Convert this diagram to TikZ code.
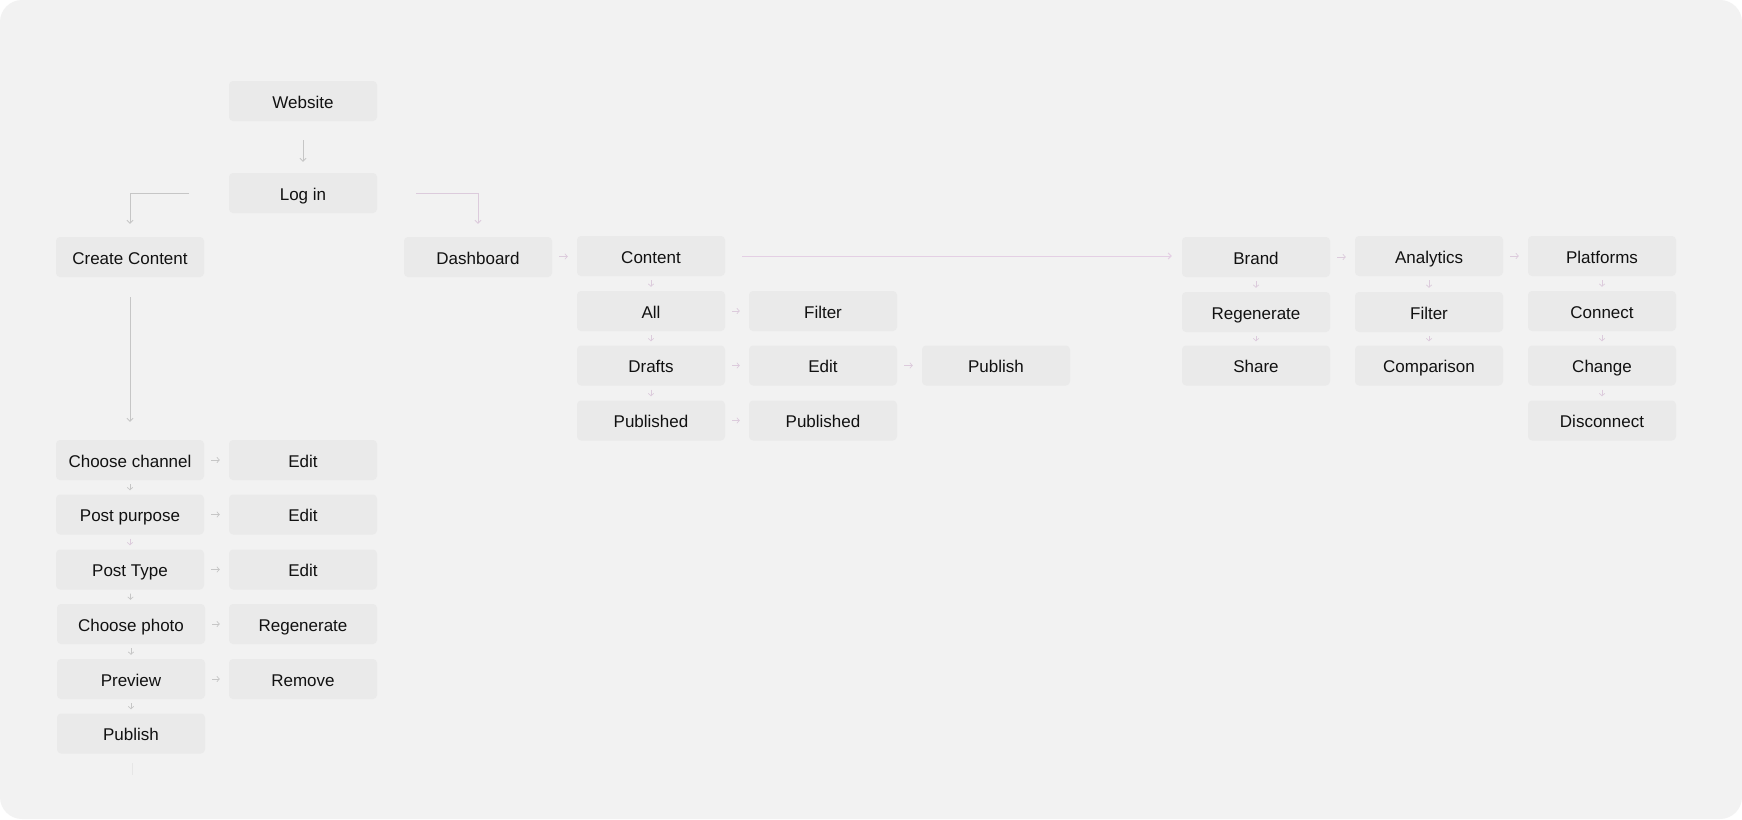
\documentclass[tikz,border=0pt]{standalone}
\usepackage{fontspec}
\setmainfont{Liberation Sans}
\usetikzlibrary{arrows.meta}
\definecolor{bgc}{HTML}{F2F2F2}
\definecolor{boxc}{HTML}{EAEAEA}
\definecolor{txtc}{HTML}{111111}
\definecolor{grayarr}{HTML}{C6C6C6}
\definecolor{pinkarr}{HTML}{DCCBDC}
\definecolor{pinkline}{HTML}{E4CFE4}
\definecolor{faintc}{HTML}{E6E6E6}
\tikzset{
  box/.style={fill=boxc, rounded corners=4pt, minimum width=148pt, minimum height=40pt, inner sep=0pt, text height=15pt, text depth=0.5pt, text=txtc, font=\fontsize{17}{20}\selectfont},
  tinyh/.style={line width=0.7pt, -{Straight Barb[length=2.5pt,width=5.5pt]}, shorten <=7pt, shorten >=9pt},
  tinyv/.style={line width=0.7pt, -{Straight Barb[length=2.5pt,width=5.5pt]}, shorten <=4pt, shorten >=4pt},
  longarr/.style={line width=0.9pt, -{Straight Barb[length=3pt,width=6pt]}},
  gr/.style={draw=grayarr},
  pk/.style={draw=pinkarr}
}
\begin{document}
\begin{tikzpicture}[x=1pt,y=-1pt]
\useasboundingbox (0,0) rectangle (1742,819);
\fill[white] (0,0) rectangle (1742,819);
\fill[bgc, rounded corners=22pt] (0,0) rectangle (1742,819);

% top
\node[box] (web) at (303,101) {Website};
\node[box] (login) at (303,193) {Log in};
\node[box] (create) at (130,257) {Create Content};
\node[box] (dash) at (478,257) {Dashboard};

% content column
\node[box] (content) at (651,256) {Content};
\node[box] (all) at (651,311) {All};
\node[box] (filterA) at (823,311) {Filter};
\node[box] (drafts) at (651,365.5) {Drafts};
\node[box] (editD) at (823,365.5) {Edit};
\node[box] (publishD) at (996,365.5) {Publish};
\node[box] (pubA) at (651,420.5) {Published};
\node[box] (pubB) at (823,420.5) {Published};

% right part
\node[box] (brand) at (1256,257) {Brand};
\node[box] (regenB) at (1256,312) {Regenerate};
\node[box] (share) at (1256,365.5) {Share};
\node[box] (analytics) at (1429,256) {Analytics};
\node[box] (filterB) at (1429,312) {Filter};
\node[box] (comparison) at (1429,365.5) {Comparison};
\node[box] (platforms) at (1602,256) {Platforms};
\node[box] (connect) at (1602,311) {Connect};
\node[box] (change) at (1602,365.5) {Change};
\node[box] (disconnect) at (1602,420.5) {Disconnect};

% left column
\node[box] (chch) at (130,460) {Choose channel};
\node[box] (editA) at (303,460) {Edit};
\node[box] (purpose) at (130,514.5) {Post purpose};
\node[box] (editB) at (303,514.5) {Edit};
\node[box] (ptype) at (130,569.5) {Post Type};
\node[box] (editC) at (303,569.5) {Edit};
\node[box] (photo) at (131,624) {Choose photo};
\node[box] (regenA) at (303,624) {Regenerate};
\node[box] (preview) at (131,679) {Preview};
\node[box] (remove) at (303,679) {Remove};
\node[box] (publishL) at (131,733.5) {Publish};

% coordinates
\coordinate (lstart) at (189,193);
\coordinate (rstart) at (416,193);
\coordinate (f1) at (132,763);
\coordinate (f2) at (132,775);

% long connectors
\draw[longarr, gr, shorten <=19pt, shorten >=11pt] (web) -- (login);
\draw[longarr, gr, shorten >=13pt] (lstart) -| (create.north);
\draw[longarr, pk, shorten >=13pt] (rstart) -| (dash.north);
\draw[longarr, gr, shorten <=20pt, shorten >=18pt] (create) -- (chch);
\draw[longarr, draw=pinkline, line width=1pt, shorten <=17pt, shorten >=10pt] (content) -- (brand.west |- content);
\draw[line width=0.7pt, draw=faintc] (f1) -- (f2);

% tiny arrows: dashboard area
\draw[tinyh, pk] (dash) -- (content);
\draw[tinyv, pk] (content) -- (all);
\draw[tinyv, pk] (all) -- (drafts);
\draw[tinyv, pk] (drafts) -- (pubA);
\draw[tinyh, pk] (all) -- (filterA);
\draw[tinyh, pk] (drafts) -- (editD);
\draw[tinyh, pk] (editD) -- (publishD);
\draw[tinyh, pk] (pubA) -- (pubB);

% right part
\draw[tinyh, pk] (brand) -- (analytics.west |- brand);
\draw[tinyh, pk] (analytics) -- (platforms);
\draw[tinyv, pk] (brand) -- (regenB);
\draw[tinyv, pk] (regenB) -- (share);
\draw[tinyv, pk] (analytics) -- (filterB);
\draw[tinyv, pk] (filterB) -- (comparison);
\draw[tinyv, pk] (platforms) -- (connect);
\draw[tinyv, pk] (connect) -- (change);
\draw[tinyv, pk] (change) -- (disconnect);

% left column
\draw[tinyh, gr] (chch) -- (editA);
\draw[tinyh, gr] (purpose) -- (editB);
\draw[tinyh, gr] (ptype) -- (editC);
\draw[tinyh, gr] (photo) -- (regenA);
\draw[tinyh, gr] (preview) -- (remove);
\draw[tinyv, gr] (chch) -- (purpose);
\draw[tinyv, pk] (purpose) -- (ptype);
\draw[tinyv, gr] (ptype) -- (photo);
\draw[tinyv, gr] (photo) -- (preview);
\draw[tinyv, gr] (preview) -- (publishL);
\end{tikzpicture}
\end{document}
